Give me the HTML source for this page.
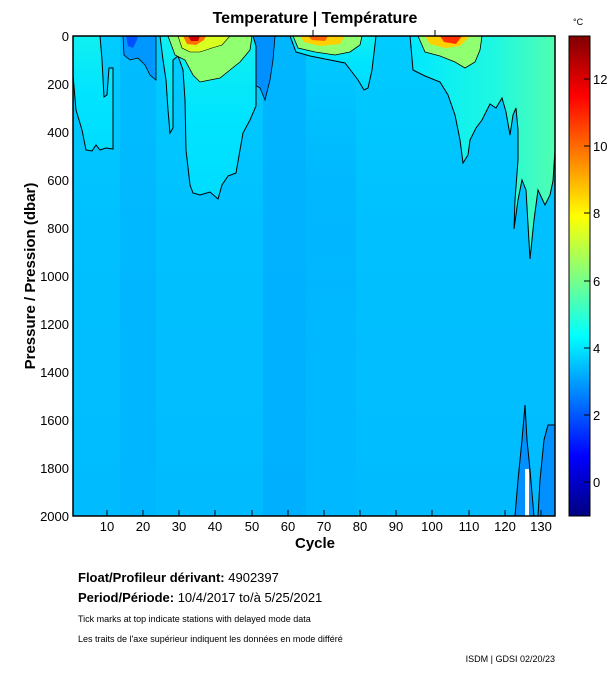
<!DOCTYPE html>
<html><head><meta charset="utf-8"><style>
body{margin:0;background:#fff;width:611px;height:675px;overflow:hidden;font-family:"Liberation Sans",sans-serif}
</style></head><body>
<svg width="611" height="675" xmlns="http://www.w3.org/2000/svg" font-family="Liberation Sans, sans-serif">
<defs>
<linearGradient id="jet" x1="0" y1="0" x2="0" y2="1">
<stop offset="0" stop-color="#800000"/><stop offset="0.125" stop-color="#ff0000"/>
<stop offset="0.375" stop-color="#ffff00"/><stop offset="0.5" stop-color="#80ff80"/>
<stop offset="0.625" stop-color="#00ffff"/><stop offset="0.875" stop-color="#0000ff"/>
<stop offset="1" stop-color="#000080"/></linearGradient>
<linearGradient id="bg" x1="0" y1="0" x2="0" y2="1">
<stop offset="0" stop-color="#00ccff"/><stop offset="0.4" stop-color="#00c0ff"/><stop offset="1" stop-color="#00bcff"/></linearGradient>
<linearGradient id="cy" x1="0" y1="0" x2="0" y2="1">
<stop offset="0" stop-color="#10f0f0"/><stop offset="0.5" stop-color="#00e4ff"/><stop offset="1" stop-color="#00dcff"/></linearGradient>
<linearGradient id="cyr" x1="0" y1="0" x2="1" y2="0">
<stop offset="0" stop-color="#00e8ff"/><stop offset="0.6" stop-color="#20f8e0"/><stop offset="1" stop-color="#50ffb0"/></linearGradient>
<linearGradient id="col" x1="0" y1="0" x2="0" y2="1">
<stop offset="0" stop-color="#00a8ff" stop-opacity="0"/><stop offset="0.3" stop-color="#00a8ff" stop-opacity="0.4"/><stop offset="1" stop-color="#00a8ff" stop-opacity="0.2"/></linearGradient>
<clipPath id="pc"><rect x="73" y="36" width="482" height="480"/></clipPath>
</defs>
<text x="315" y="23" text-anchor="middle" font-size="16" font-weight="bold">Temperature | Température</text>
<g clip-path="url(#pc)">
<rect x="73" y="36" width="482" height="480" fill="url(#bg)"/>
<rect x="120" y="36" width="36" height="480" fill="#00b0ff" opacity="0.5"/>
<rect x="263" y="36" width="43" height="480" fill="#00a8ff" opacity="0.6"/>
<rect x="306" y="36" width="50" height="480" fill="url(#col)"/>
<polygon fill="url(#cy)" stroke="#000" stroke-width="1" points="73,36 73,75 76,110 82,130 86,150 92,151 96,145 100,150 106,148 113,149 113,68 109,68 107,95 104,97 102,60 100,36"/>
<polygon fill="#0098ff" stroke="#000" stroke-width="0.8" points="123,36 124,55 130,60 138,58 145,65 150,75 156,80 156,36"/>
<polygon fill="#0050ff" points="126,36 128,46 133,48 137,40 138,36"/>
<polygon fill="#0090ff" stroke="#000" stroke-width="0.8" points="253,36 255,85 260,88 265,100 270,80 273,60 275,36"/>
<polygon fill="url(#cy)" stroke="#000" stroke-width="1" points="160,36 163,60 166,80 168,110 170,133 173,128 173,60 178,56 183,70 185,100 186,150 190,185 193,193 200,195 210,192 218,199 222,185 228,176 236,173 240,150 243,133 250,120 256,106 256,46 253,36"/>
<polygon fill="#90ff70" stroke="#000" stroke-width="0.8" points="168,36 175,55 185,60 193,75 200,82 210,80 220,78 230,70 240,62 250,50 252,36"/>
<polygon fill="#d8ff20" stroke="#000" stroke-width="0.6" points="178,36 182,48 190,52 200,52 212,48 222,45 230,36"/>
<polygon fill="#ff7000" points="183,36 187,44 196,45 204,40 206,36"/>
<polygon fill="#d00000" points="188,36 191,41 198,41 200,36"/>
<polygon fill="url(#cy)" stroke="#000" stroke-width="1" points="290,36 296,52 310,56 330,60 345,63 352,72 358,80 364,90 368,88 372,70 376,36"/>
<polygon fill="#90ff70" stroke="#000" stroke-width="0.8" points="293,36 298,48 315,52 335,55 350,52 360,45 362,36"/>
<polygon fill="#ffd000" points="300,36 304,42 320,46 340,44 345,36"/>
<polygon fill="#ff6000" points="308,36 312,40 325,41 328,36"/>
<polygon fill="url(#cyr)" stroke="#000" stroke-width="1" points="410,36 413,70 425,76 440,82 448,95 455,115 460,140 463,163 468,155 470,140 476,128 482,120 490,104 496,108 502,98 506,112 510,135 513,115 516,108 518,130 518,160 515,200 514,229 518,200 522,180 526,190 530,259 534,220 538,190 545,205 550,195 553,181 555,150 555,36"/>
<polygon fill="#90ff70" stroke="#000" stroke-width="0.8" points="418,36 425,52 440,56 455,62 465,68 475,62 480,50 482,36"/>
<polygon fill="#ffd000" points="425,36 430,44 445,48 460,46 470,36"/>
<polygon fill="#ff3000" points="440,36 444,42 456,44 462,36"/>
<polygon fill="#0090ff" stroke="#000" stroke-width="1" points="515,516 518,480 520,460 522,440 525,405 527,440 530,470 534,516"/>
<polygon fill="#0090ff" stroke="#000" stroke-width="1" points="538,516 540,480 544,440 548,425 555,425 555,516"/>
<rect x="525" y="469" width="4" height="47" fill="#fff"/>
</g>
<rect x="73" y="36" width="482" height="480" fill="none" stroke="#000" stroke-width="1.5"/>
<g stroke="#000" stroke-width="1">
<line x1="313" y1="30" x2="313" y2="36"/><line x1="435" y1="30" x2="435" y2="36"/>
<line x1="107" y1="516" x2="107" y2="510"/><line x1="143" y1="516" x2="143" y2="510"/><line x1="179" y1="516" x2="179" y2="510"/><line x1="215" y1="516" x2="215" y2="510"/><line x1="252" y1="516" x2="252" y2="510"/><line x1="288" y1="516" x2="288" y2="510"/><line x1="324" y1="516" x2="324" y2="510"/><line x1="360" y1="516" x2="360" y2="510"/><line x1="396" y1="516" x2="396" y2="510"/><line x1="432" y1="516" x2="432" y2="510"/><line x1="469" y1="516" x2="469" y2="510"/><line x1="505" y1="516" x2="505" y2="510"/><line x1="541" y1="516" x2="541" y2="510"/>
</g>
<g font-size="13" text-anchor="end">
<text x="69" y="41">0</text><text x="69" y="89">200</text><text x="69" y="137">400</text><text x="69" y="185">600</text><text x="69" y="233">800</text><text x="69" y="281">1000</text><text x="69" y="329">1200</text><text x="69" y="377">1400</text><text x="69" y="425">1600</text><text x="69" y="473">1800</text><text x="69" y="521">2000</text>
</g>
<g font-size="13" text-anchor="middle">
<text x="107" y="531">10</text><text x="143" y="531">20</text><text x="179" y="531">30</text><text x="215" y="531">40</text><text x="252" y="531">50</text><text x="288" y="531">60</text><text x="324" y="531">70</text><text x="360" y="531">80</text><text x="396" y="531">90</text><text x="432" y="531">100</text><text x="469" y="531">110</text><text x="505" y="531">120</text><text x="541" y="531">130</text>
</g>
<text x="315" y="548" text-anchor="middle" font-size="15" font-weight="bold">Cycle</text>
<text transform="translate(35,276) rotate(-90)" text-anchor="middle" font-size="15" font-weight="bold">Pressure / Pression (dbar)</text>
<text x="573" y="25" font-size="9">°C</text>
<rect x="569" y="36" width="21" height="480" fill="url(#jet)" stroke="#000" stroke-width="1"/>
<g font-size="13"><text x="593" y="487">0</text><text x="593" y="420">2</text><text x="593" y="353">4</text><text x="593" y="286">6</text><text x="593" y="218">8</text><text x="593" y="151">10</text><text x="593" y="84">12</text></g>
<g stroke="#000"><line x1="584" y1="482" x2="590" y2="482"/><line x1="584" y1="415" x2="590" y2="415"/><line x1="584" y1="348" x2="590" y2="348"/><line x1="584" y1="281" x2="590" y2="281"/><line x1="584" y1="213" x2="590" y2="213"/><line x1="584" y1="146" x2="590" y2="146"/><line x1="584" y1="79" x2="590" y2="79"/></g>
<text x="78" y="582" font-size="13" font-weight="bold">Float/Profileur dérivant: <tspan font-weight="normal">4902397</tspan></text>
<text x="78" y="602" font-size="13" font-weight="bold">Period/Période: <tspan font-weight="normal">10/4/2017  to/à  5/25/2021</tspan></text>
<text x="78" y="622" font-size="9">Tick marks at top indicate stations with delayed mode data</text>
<text x="78" y="642" font-size="9">Les traits de l'axe supérieur indiquent les données en mode différé</text>
<text x="555" y="662" font-size="9" text-anchor="end">ISDM | GDSI  02/20/23</text>
</svg>
</body></html>
